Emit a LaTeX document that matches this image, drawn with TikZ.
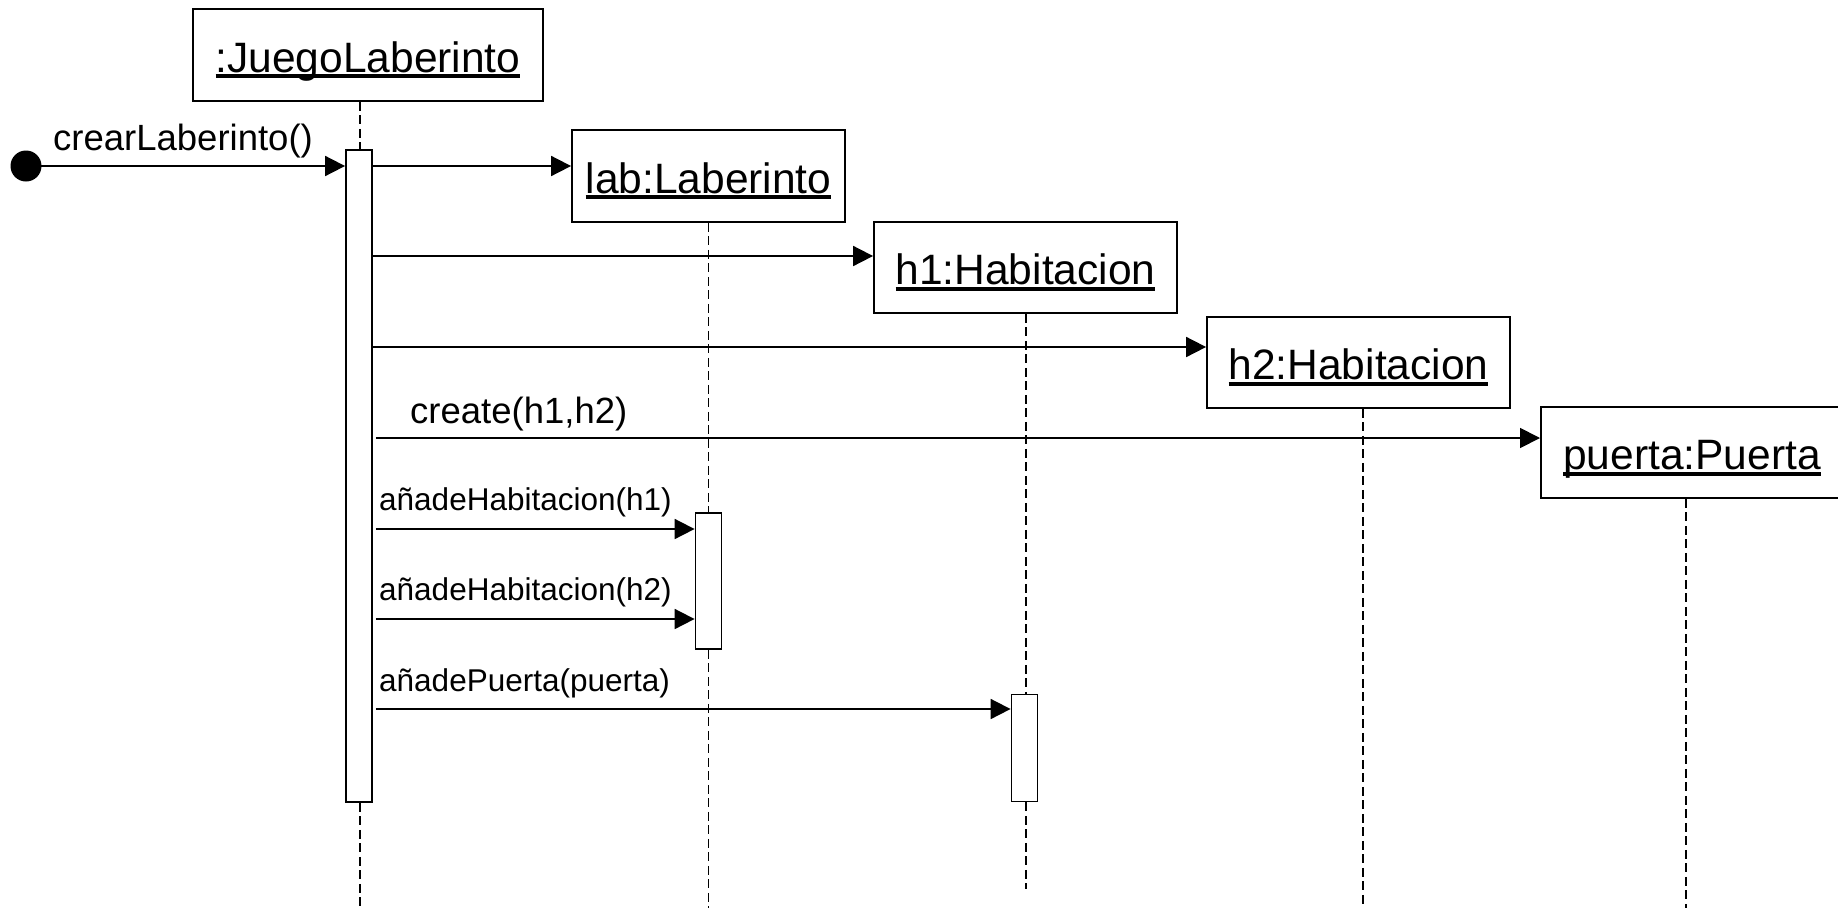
\documentclass[tikz,border=0pt]{standalone}
\usepackage{fontspec}
\setmainfont{Liberation Sans}
\usetikzlibrary{arrows.meta}
% underlined object name, rule just under the baseline
\newcommand\objname[1]{\setbox0\hbox{#1}\rlap{\rule[-0.15em]{\wd0}{0.1em}}\box0}

\begin{document}
\begin{tikzpicture}[x=1pt,y=-1pt,
  obj/.style={draw, line width=1.8pt, fill=white, inner sep=0pt,
    text height=34pt, text depth=0pt,
    font=\fontsize{42.5}{50}\selectfont},
  act/.style={draw, line width=1.8pt, fill=white, inner sep=0pt, minimum width=26},
  lifeline/.style={line width=1.6pt, dash pattern=on 9pt off 4.5pt},
  msg/.style={line width=1.8pt, -{Triangle[length=20pt,width=20pt]}},
  biglbl/.style={inner sep=0pt, anchor=base west, font=\fontsize{36.5}{44}\selectfont},
  smalllbl/.style={inner sep=0pt, anchor=base west, font=\fontsize{31.5}{38}\selectfont},
]
\useasboundingbox (0,0) rectangle (1838,908);

% object boxes
\node[obj, minimum width=350, minimum height=92] (jl)  at (368,55)    {\objname{:JuegoLaberinto}};
\node[obj, minimum width=273, minimum height=92] (lab) at (708.5,176) {\objname{lab:Laberinto}};
\node[obj, minimum width=303, minimum height=91] (h1)  at (1025.5,267.5) {\objname{h1:Habitacion}};
\node[obj, minimum width=303, minimum height=91] (h2)  at (1358.5,362.5) {\objname{h2:Habitacion}};
\node[obj, minimum width=302, minimum height=91, anchor=west] (pu) at (1540,452.5) {\objname{puerta:Puerta}};

% lifeline ends
\coordinate (e0) at (360,908);
\coordinate (e1) at (708.5,908);
\coordinate (e2) at (1026,889);
\coordinate (e3) at (1363,908);
\coordinate (e4) at (1686,908);

% activation bars
\node[act, minimum height=652] (a0) at (359,476) {};
\node[act, minimum height=136] (a1) at (708.5,581) {};
\node[act, minimum height=107] (a2) at (1024.5,748) {};

% lifelines
\draw[lifeline] (jl.south -| e0) -- (a0.north -| e0);
\draw[lifeline] (a0.south -| e0) -- (e0);
\draw[lifeline] (lab.south) -- (a1.north);
\draw[lifeline] (a1.south) -- (e1);
\draw[lifeline] (h1.south -| e2) -- (a2.north -| e2);
\draw[lifeline] (a2.south -| e2) -- (e2);
\draw[lifeline] (h2.south -| e3) -- (e3);
\draw[lifeline] (pu.south -| e4) -- (e4);
% bars drawn again over the dashes
\node[act, minimum height=652] at (a0) {};
\node[act, minimum height=136] at (a1) {};
\node[act, minimum height=107] at (a2) {};

% found message
\node[circle, fill=black, inner sep=0pt, minimum size=31] (start) at (26,166) {};
\node[biglbl] (lcrear) at (53,150) {crearLaberinto()};

% message rows
\coordinate (m1) at (0,166);
\coordinate (m2) at (0,256);
\coordinate (m3) at (0,347);
\coordinate (m4) at (0,438);
\coordinate (m5) at (0,529);
\coordinate (m6) at (0,619);
\coordinate (m7) at (0,709);

\draw[msg] (start.center) -- (a0.west |- start);
\draw[msg] (a0.east |- m1) -- (lab.west |- m1);
\draw[msg] (a0.east |- m2) -- (h1.west |- m2);
\draw[msg] (a0.east |- m3) -- (h2.west |- m3);
\draw[msg] ([xshift=3pt]a0.east |- m4) -- (pu.west |- m4);
\draw[msg] ([xshift=3pt]a0.east |- m5) -- (a1.west |- m5);
\draw[msg] ([xshift=3pt]a0.east |- m6) -- (a1.west |- m6);
\draw[msg] ([xshift=3pt]a0.east |- m7) -- (a2.west |- m7);

% message labels
\node[biglbl] (lcreate) at (410,423) {create(h1,h2)};
\node[smalllbl] (lh1) at (379,510) {añadeHabitacion(h1)};
\node[smalllbl] (lh2) at (379,600) {añadeHabitacion(h2)};
\node[smalllbl] (lpu) at (379,691) {añadePuerta(puerta)};
\end{tikzpicture}
\end{document}
